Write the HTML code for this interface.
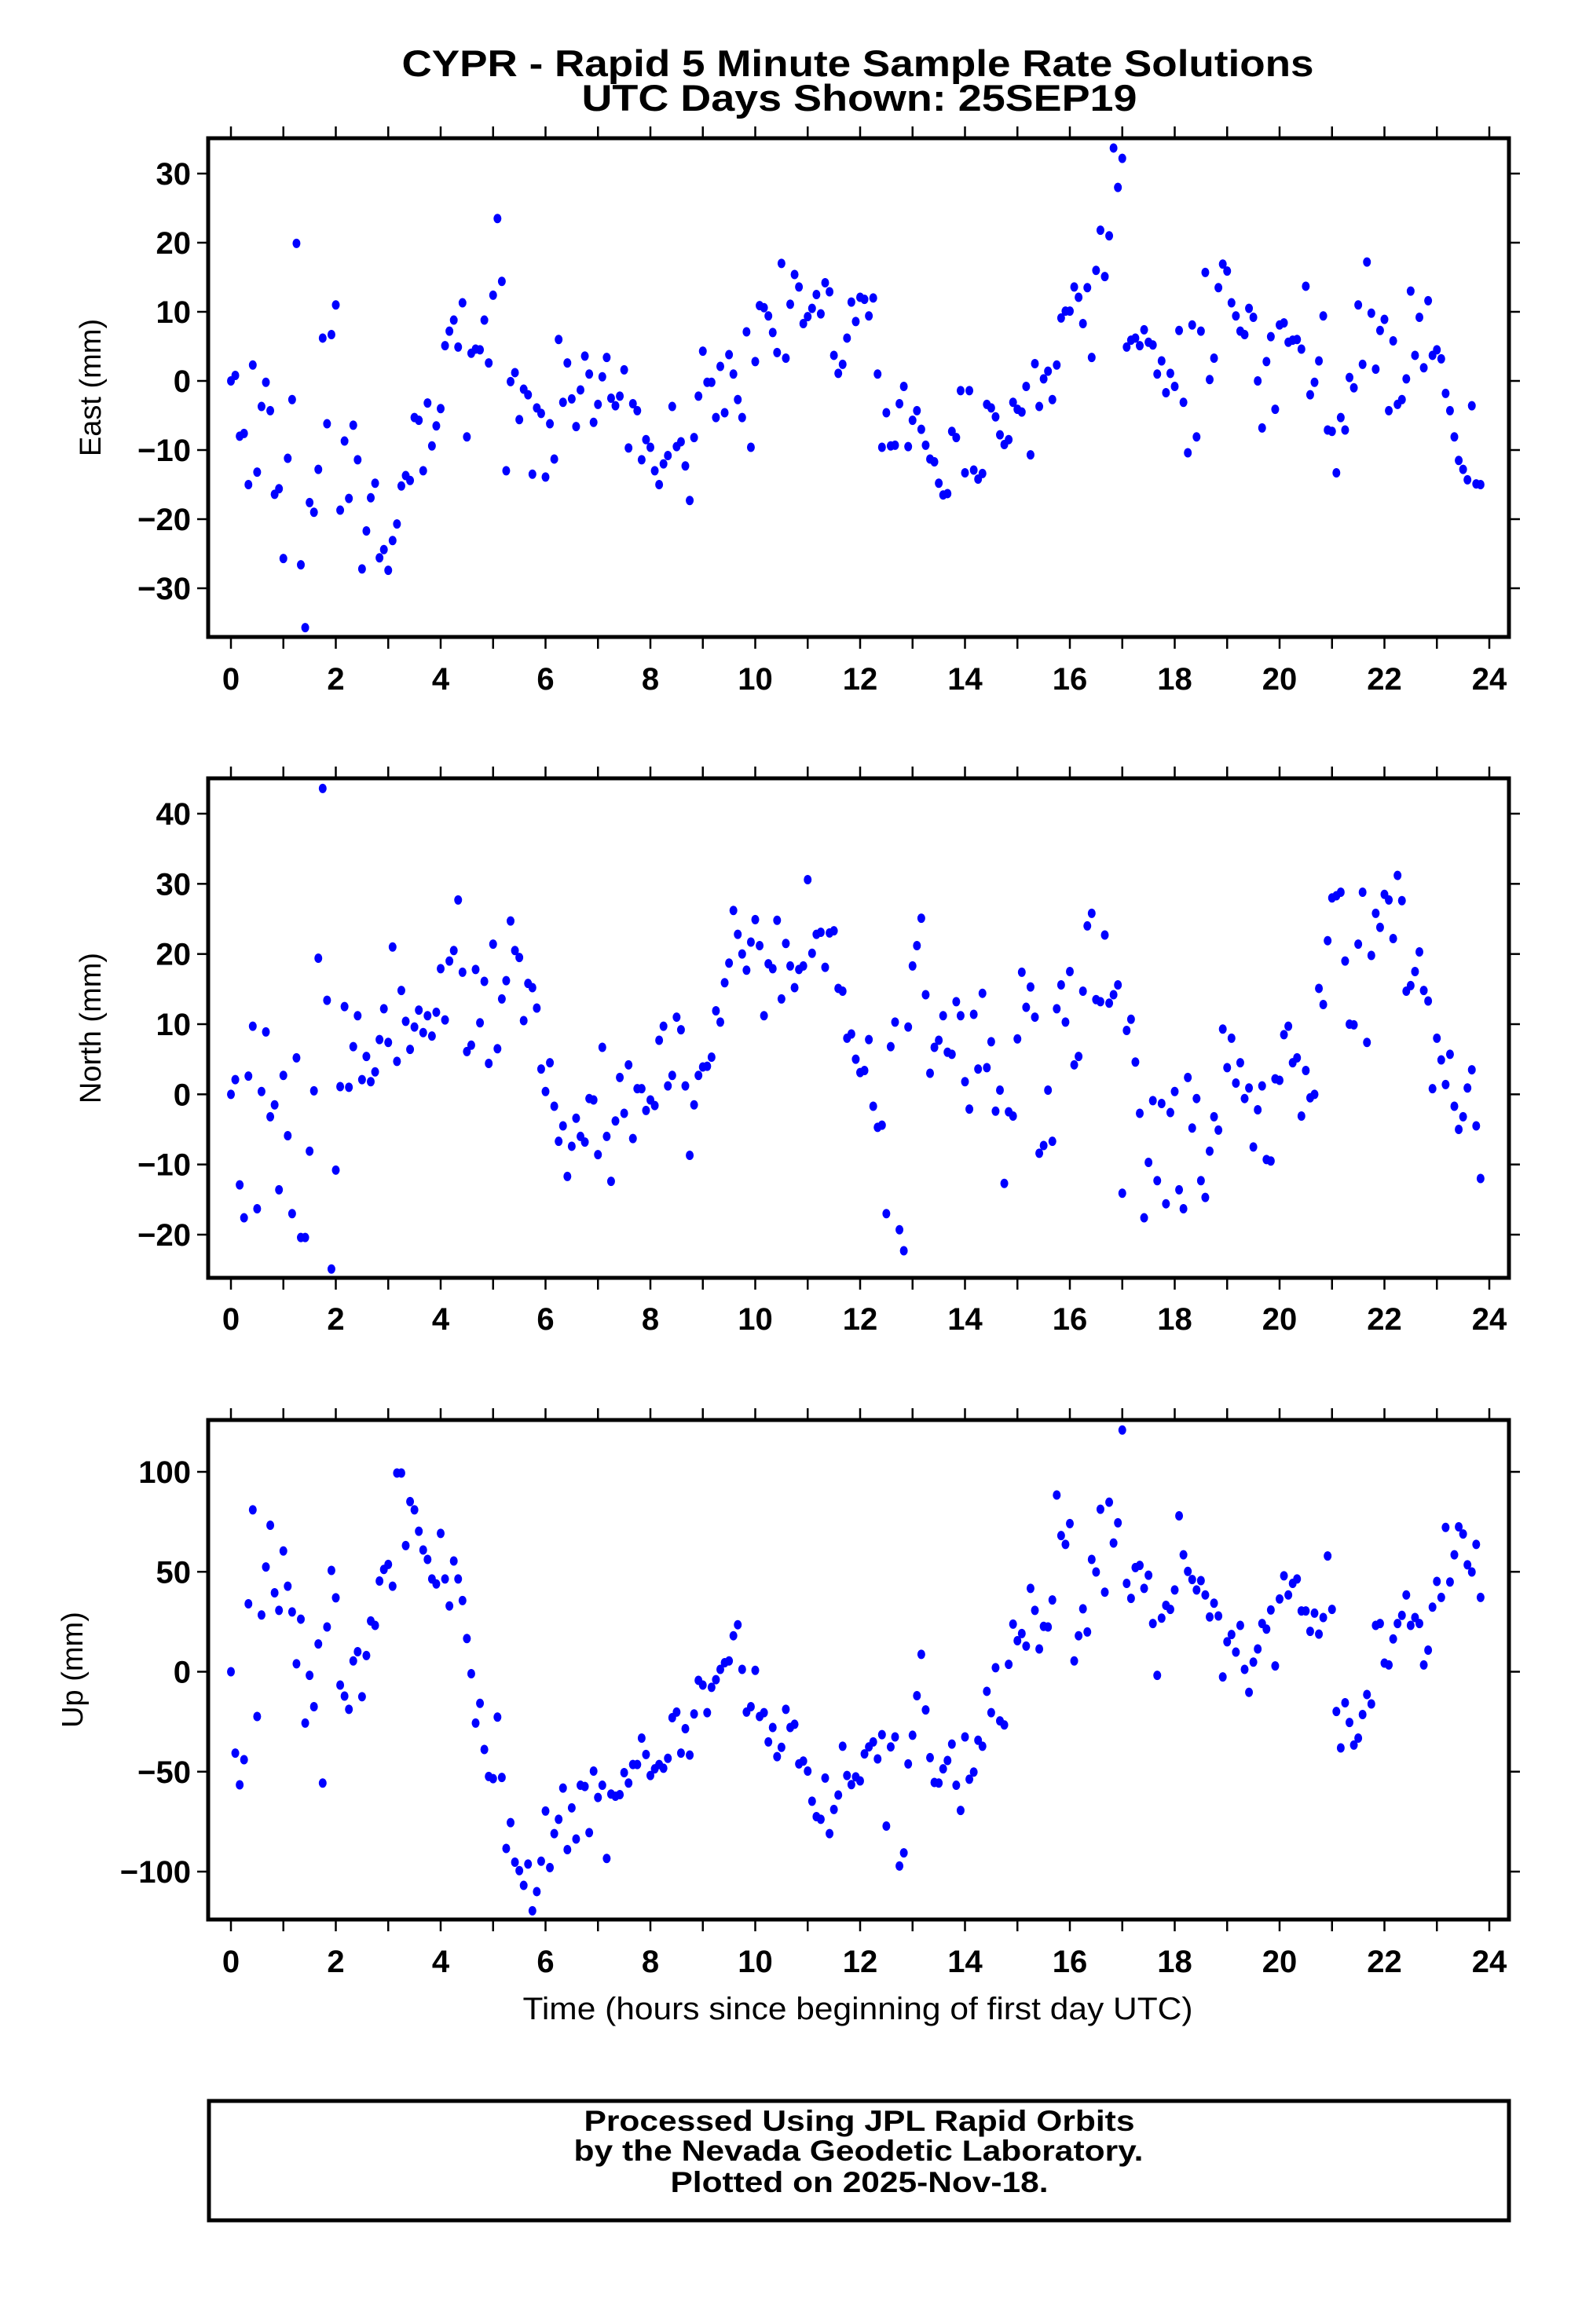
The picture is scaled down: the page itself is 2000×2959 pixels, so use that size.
<!DOCTYPE html>
<html>
<head>
<meta charset="utf-8">
<style>
html,body{margin:0;padding:0;background:#fff;}
svg{display:block;}
text{font-family:"Liberation Sans",Arial,sans-serif;fill:#000;}
</style>
</head>
<body>
<svg id="chart" width="2000" height="2959" viewBox="0 0 2000 2959" xmlns="http://www.w3.org/2000/svg">
  <text x="1092" y="97" text-anchor="middle" font-size="47" font-weight="bold" textLength="1161" lengthAdjust="spacingAndGlyphs">CYPR - Rapid 5 Minute Sample Rate Solutions</text>
  <text x="1094" y="141" text-anchor="middle" font-size="47" font-weight="bold" textLength="707" lengthAdjust="spacingAndGlyphs">UTC Days Shown:  25SEP19</text>
  <g id="panels"></g>
  <text x="1092" y="2571" text-anchor="middle" font-size="40" textLength="853" lengthAdjust="spacingAndGlyphs">Time (hours since beginning of first day UTC)</text>
  <rect x="266" y="2675" width="1655" height="152" fill="none" stroke="#000" stroke-width="5"/>
  <text x="1094" y="2713" text-anchor="middle" font-size="37" font-weight="bold" textLength="701" lengthAdjust="spacingAndGlyphs">Processed Using JPL Rapid Orbits</text>
  <text x="1093" y="2751" text-anchor="middle" font-size="37" font-weight="bold" textLength="725" lengthAdjust="spacingAndGlyphs">by the Nevada Geodetic Laboratory.</text>
  <text x="1094" y="2791" text-anchor="middle" font-size="37" font-weight="bold" textLength="481" lengthAdjust="spacingAndGlyphs">Plotted on 2025-Nov-18.</text>
</svg>
<script>
const xTicks = [0,2,4,6,8,10,12,14,16,18,20,22,24];
const eastTicks = [-30,-20,-10,0,10,20,30];
const northTicks = [-20,-10,0,10,20,30,40];
const upTicks = [-100,-50,0,50,100];
const eastValues = [0,0.8,-8,-7.6,-15,2.3,-13.2,-3.7,-0.2,-4.3,-16.4,-15.6,-25.7,-11.2,-2.7,19.9,-26.6,-35.7,-17.6,-19,-12.8,6.2,-6.2,6.7,11,-18.7,-8.7,-17,-6.4,-11.4,-27.2,-21.7,-16.9,-14.8,-25.6,-24.4,-27.4,-23.1,-20.7,-15.2,-13.7,-14.4,-5.3,-5.7,-13,-3.2,-9.4,-6.5,-4,5.1,7.2,8.8,4.9,11.3,-8.1,4,4.6,4.5,8.8,2.6,12.4,23.5,14.4,-13,-0.1,1.2,-5.6,-1.2,-2,-13.5,-3.9,-4.7,-13.9,-6.2,-11.3,6,-3.1,2.6,-2.6,-6.6,-1.3,3.6,1,-6,-3.4,0.6,3.4,-2.5,-3.6,-2.2,1.6,-9.7,-3.3,-4.3,-11.4,-8.5,-9.6,-13,-15,-12,-10.8,-3.7,-9.5,-8.8,-12.3,-17.3,-8.2,-2.2,4.3,-0.2,-0.2,-5.3,2.1,-4.6,3.8,1,-2.7,-5.3,7.1,-9.6,2.8,10.9,10.6,9.4,7,4.1,17,3.3,11.1,15.4,13.6,8.3,9.3,10.5,12.5,9.7,14.2,12.9,3.7,1.1,2.4,6.2,11.4,8.6,12.1,11.8,9.4,12,1,-9.6,-4.6,-9.4,-9.3,-3.3,-0.8,-9.5,-5.7,-4.3,-7,-9.3,-11.3,-11.7,-14.8,-16.5,-16.3,-7.3,-8.2,-1.4,-13.3,-1.4,-12.9,-14.2,-13.4,-3.4,-3.9,-5.2,-7.8,-9.2,-8.5,-3.1,-4.1,-4.5,-0.8,-10.7,2.5,-3.7,0.3,1.4,-2.7,2.3,9.1,10.1,10.1,13.6,12.1,8.3,13.5,3.4,16,21.8,15.1,21,33.7,28,32.2,4.9,5.9,6.2,5.1,7.4,5.6,5.2,1,2.9,-1.7,1.1,-0.8,7.3,-3.1,-10.4,8.1,-8.1,7.2,15.7,0.2,3.3,13.5,16.9,15.9,11.3,9.4,7.2,6.7,10.5,9.2,0,-6.8,2.8,6.4,-4.1,8.1,8.4,5.6,5.9,6,4.6,13.7,-2,-0.2,2.9,9.4,-7.1,-7.3,-13.3,-5.3,-7.1,0.5,-1,11,2.4,17.2,9.8,1.7,7.3,8.9,-4.3,5.8,-3.4,-2.7,0.3,13,3.7,9.2,1.9,11.6,3.7,4.5,3.2,-1.8,-4.3,-8.1,-11.5,-12.8,-14.3,-3.6,-14.9,-15];
const northValues = [0,2.1,-12.9,-17.6,2.6,9.7,-16.3,0.4,8.9,-3.2,-1.5,-13.6,2.7,-5.9,-17,5.2,-20.4,-20.4,-8.1,0.5,19.4,43.6,13.4,-24.9,-10.8,1.1,12.5,1,6.8,11.2,2.1,5.4,1.8,3.2,7.8,12.2,7.4,21,4.7,14.8,10.4,6.4,9.6,12,8.8,11.2,8.3,11.7,17.9,10.6,19,20.5,27.7,17.4,6.1,7,17.8,10.2,16.1,4.4,21.4,6.5,13.6,16.2,24.7,20.5,19.5,10.5,15.8,15.2,12.3,3.6,0.4,4.5,-1.7,-6.7,-4.5,-11.7,-7.4,-3.4,-6,-6.8,-0.6,-0.8,-8.6,6.7,-6,-12.4,-3.8,2.4,-2.7,4.2,-6.3,0.8,0.8,-2.3,-0.8,-1.6,7.7,9.7,1.2,2.7,11,9.2,1.2,-8.7,-1.5,2.7,3.9,4,5.3,11.9,10.3,15.9,18.7,26.2,22.8,20,17.7,21.7,24.9,21.2,11.2,18.6,17.9,24.8,13.6,21.5,18.3,15.2,17.8,18.3,30.6,20.1,22.8,23.1,18.1,23,23.3,15.1,14.7,8,8.6,5,3.1,3.4,7.8,-1.7,-4.7,-4.4,-17,6.8,10.3,-19.3,-22.3,9.6,18.3,21.2,25.1,14.2,3,6.7,7.7,11.2,6,5.7,13.2,11.2,1.8,-2.1,11.4,3.6,14.4,3.8,7.5,-2.4,0.6,-12.7,-2.5,-3.1,7.9,17.4,12.4,15.3,11,-8.4,-7.3,0.6,-6.7,12.2,15.6,10.3,17.5,4.2,5.4,14.7,24,25.8,13.5,13.2,22.7,13,14.2,15.6,-14.1,9.1,10.7,4.6,-2.7,-17.6,-9.7,-0.9,-12.3,-1.3,-15.6,-2.6,0.4,-13.6,-16.3,2.4,-4.8,-0.6,-12.3,-14.7,-8.1,-3.2,-5.1,9.3,3.8,8,1.6,4.5,-0.6,0.9,-7.5,-2.2,1.2,-9.3,-9.5,2.2,2,8.5,9.7,4.5,5.2,-3.1,3.4,-0.5,0,15.1,12.8,21.9,28,28.3,28.8,19,10,9.9,21.4,28.8,7.4,19.8,25.8,23.8,28.5,27.7,22.2,31.2,27.6,14.7,15.5,17.5,20.3,14.8,13.3,0.8,8,4.9,1.4,5.7,-1.7,-5,-3.2,0.9,3.5,-4.5,-12];
const upValues = [0,-40.7,-56.6,-44,34,81,-22.4,28.4,52.4,73.3,39.5,30.7,60.4,42.8,29.9,4,26.3,-25.7,-1.8,-17.5,13.9,-55.7,22.4,50.7,37,-6.7,-12.2,-18.8,5.4,10,-12.5,8.1,25.4,23.2,45.4,51.2,53.7,42.8,99.4,99.4,63.1,85.1,81,70.3,60.9,56.2,46.4,43.9,69.2,46.4,32.9,55.4,46.4,35.6,16.6,-1,-25.7,-15.8,-38.9,-52.4,-53.5,-22.7,-52.9,-88.4,-75.5,-95.3,-99.5,-106.9,-96.2,-119.6,-110,-94.8,-69.7,-98,-81,-73.8,-58.2,-89,-68.1,-83.7,-56.8,-57.4,-80.5,-49.7,-62.9,-56.8,-93.4,-61.2,-62.3,-61.5,-50.5,-55.7,-46.4,-46.4,-33.2,-41.4,-51.9,-48.6,-46.4,-48.3,-43.3,-23,-20.2,-40.7,-28.5,-41.7,-21.1,-4.3,-6.7,-20.5,-7.8,-4,1.2,4.5,5.4,18,23.5,1.2,-20.2,-17.5,0.7,-22.4,-20.5,-35.1,-27.9,-42.5,-37.8,-18.8,-27.9,-26.3,-46.1,-44.7,-49.7,-64.8,-72.5,-73.8,-53.2,-81,-68.9,-61.7,-37.3,-51.9,-56.5,-52.6,-54.6,-41.1,-37.6,-35.1,-43.6,-31.5,-77.2,-37.6,-32.6,-97.2,-90.6,-46.1,-31.8,-12,8.7,-19.1,-43,-55.4,-55.7,-48.6,-44.4,-36.2,-56.8,-69.4,-32.6,-53.8,-50.2,-34.3,-37.3,-9.8,-20.5,2,-24.6,-26.6,3.7,23.8,15.5,19.1,12.8,41.7,30.7,11.4,22.7,22.4,35.9,88.4,68.1,63.7,74.1,5.4,18,31.5,19.9,56.2,49.9,81.3,39.8,84.8,64.4,74.5,120.9,44.2,36.7,52.1,53.2,41.7,48.3,24.1,-1.8,26.8,33.2,31.2,40.9,78,58.5,50.2,46.1,40.9,45.6,38.4,27.4,34.3,27.9,-2.6,15,18.6,9.8,23.2,1.2,-10.3,4.8,11.4,24.1,21.3,30.9,2.9,36.4,48,38.4,44.2,46.4,30.4,30.4,20.2,29.3,18.8,27.1,57.9,31.2,-19.9,-38.1,-15.5,-25.4,-36.7,-33.2,-21.4,-11.4,-16.1,23.2,24.1,4.3,3.4,16.4,24.1,28.2,38.4,23.2,27.1,24.1,3.4,10.8,32.3,45.2,37.2,72.2,44.9,58.5,72.5,68.9,53.5,49.9,63.7,37.2];

const NS = "http://www.w3.org/2000/svg";
const X0 = 265, X1 = 1921, PX0 = 294, PX24 = 1896;
function xScale(h){ return PX0 + h / 24 * (PX24 - PX0); }
function mk(tag, attrs){ const e = document.createElementNS(NS, tag); for (const k in attrs) e.setAttribute(k, attrs[k]); return e; }

const panels = [
  {key:"east", label:"East (mm)", top:176, bottom:811, vA:30, pA:221, vB:-30, pB:749, ticks:eastTicks, values:eastValues, tickLabelY:878, labelX:115},
  {key:"north", label:"North (mm)", top:991, bottom:1627, vA:40, pA:1036, vB:-20, pB:1572, ticks:northTicks, values:northValues, tickLabelY:1693, labelX:115},
  {key:"up", label:"Up (mm)", top:1808, bottom:2444, vA:100, pA:1874, vB:-100, pB:2383, ticks:upTicks, values:upValues, tickLabelY:2511, labelX:92}
];

const root = document.getElementById("panels");
panels.forEach(p => {
  const g = mk("g", {});
  
  
  root.appendChild(g);
  const yScale = v => p.pA + (v - p.vA) / (p.vB - p.vA) * (p.pB - p.pA);

  for (let h = 0; h <= 24; h++) {
    const x = xScale(h);
    const len = 15;
    const t1 = mk("line", {x1:x, x2:x, y1:p.top, y2:p.top - len, stroke:"#000", "stroke-width":2.5});
    
    
    g.appendChild(t1);
    const t2 = mk("line", {x1:x, x2:x, y1:p.bottom, y2:p.bottom + len, stroke:"#000", "stroke-width":2.5});
    
    
    g.appendChild(t2);
  }
  xTicks.forEach(h => {
    const t = mk("text", {x:xScale(h), y:p.tickLabelY, "text-anchor":"middle", "font-size":40, "font-weight":"bold"});
    t.textContent = h;
    
    
    g.appendChild(t);
  });
  p.ticks.forEach(v => {
    const y = yScale(v);
    const tl = mk("line", {x1:X0, x2:X0 - 14, y1:y, y2:y, stroke:"#000", "stroke-width":2.5});
    
    
    g.appendChild(tl);
    const tr = mk("line", {x1:X1, x2:X1 + 14, y1:y, y2:y, stroke:"#000", "stroke-width":2.5});
    
    
    g.appendChild(tr);
    const lab = mk("text", {x:X0 - 22, y:y + 14, "text-anchor":"end", "font-size":40, "font-weight":"bold"});
    lab.textContent = v < 0 ? "\u2212" + Math.abs(v) : String(v);
    
    
    g.appendChild(lab);
  });
  const cy = (p.top + p.bottom) / 2;
  const yt = mk("text", {x:p.labelX, y:cy, "text-anchor":"middle", "font-size":38, transform:"rotate(-90 " + p.labelX + " " + cy + ")", dy:"13"});
  yt.textContent = p.label;
  
  
  g.appendChild(yt);
  p.values.forEach((v, i) => {
    const c = mk("ellipse", {cx:xScale(i * 5 / 60), cy:yScale(v), rx:5, ry:6, fill:"#0000ff"});
    
    
    g.appendChild(c);
  });
  const fr = mk("rect", {x:X0, y:p.top, width:X1 - X0, height:p.bottom - p.top, fill:"none", stroke:"#000", "stroke-width":5});
  
  
  g.appendChild(fr);
});
</script>
</body>
</html>
